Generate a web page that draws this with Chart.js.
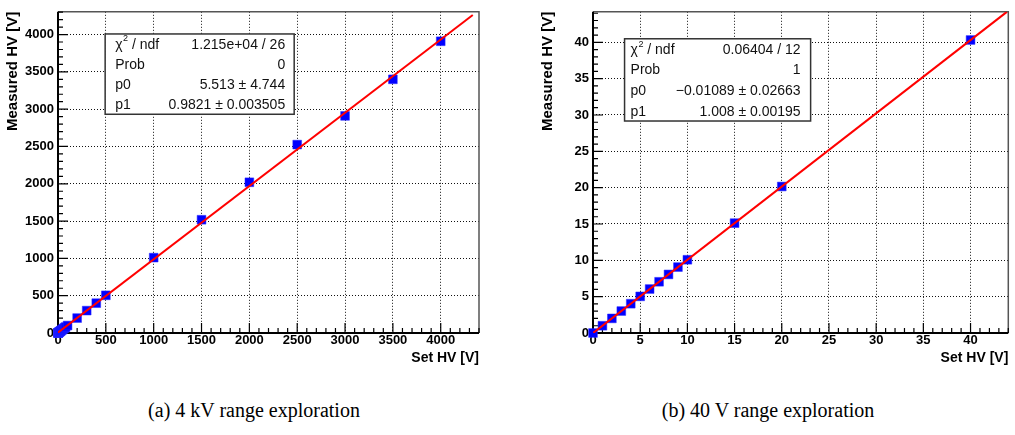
<!DOCTYPE html>
<html>
<head>
<meta charset="utf-8">
<title>HV calibration</title>
<script src="https://cdn.jsdelivr.net/npm/chart.js@4.4.1/dist/chart.umd.min.js"></script>
<style>
  html, body { margin: 0; padding: 0; background: #fff; }
  body { width: 1015px; height: 435px; position: relative; overflow: hidden; }
  .panel { position: absolute; top: 0; height: 375px; }
  #panel-a { left: 0; width: 500px; }
  #panel-b { left: 535px; width: 480px; }
  .caption {
    position: absolute; top: 399px;
    font-family: 'Liberation Serif', 'Times New Roman', serif;
    font-size: 20px; line-height: 22px; color: #000;
    white-space: nowrap; transform: translateX(-50%);
  }
</style>
</head>
<body>
<div class="panel" id="panel-a"><canvas id="chart-a"></canvas></div>
<div class="panel" id="panel-b"><canvas id="chart-b"></canvas></div>
<div class="caption" style="left:254px">(a) 4 kV range exploration</div>
<div class="caption" style="left:768px">(b) 40 V range exploration</div>

<script>
// 4 kV scan: set vs. measured voltage
const setHV4k = [0, 1, 2, 3, 4, 5, 10, 15, 20, 25, 30, 40, 50, 60, 70, 80, 100,
                 200, 300, 400, 500, 1000, 1500, 2000, 2500, 3000, 3500, 4000];
const measHV4k = [0, 1, 2, 3, 4, 5, 10, 15, 20, 25, 30, 40, 50, 60, 70, 80, 100,
                  200, 300, 400, 505, 1010, 1518, 2020, 2525, 2910, 3400, 3910];
const ticks4k = [0, 500, 1000, 1500, 2000, 2500, 3000, 3500, 4000];

// 40 V scan
const setHV40 = [0, 1, 2, 3, 4, 5, 6, 7, 8, 9, 10, 15, 20, 40];
const measHV40 = [0, 1.0, 2.01, 3.02, 4.03, 5.04, 6.05, 7.05, 8.06, 9.07, 10.08, 15.12, 20.16, 40.32];
const ticks40 = [0, 5, 10, 15, 20, 25, 30, 35, 40];

// linear fit results (pol1: p0 + p1*x)
const fitPars4k = [5.513, 0.9821];
const fitErrs4k = [4.744, 0.003505];
const fitChi4k = '1.215e+04 / 26';
const fitProb4k = '0';
const fitRange4k = [0, 4335];

const fitPars40 = [-0.01089, 1.008];
const fitErrs40 = [0.02663, 0.00195];
const fitChi40 = '0.06404 / 12';
const fitProb40 = '1';
const fitRange40 = [0, 43.85];

const statNames = ['χ2 / ndf', 'Prob', 'p0', 'p1'];

const SANS = "'Liberation Sans', Arial, Helvetica, sans-serif";

function fmt(v) {
  return String(v).replace('-', '\u2212');
}

function fitLine(pars, range) {
  return range.map(x => ({ x: x, y: pars[0] + pars[1] * x }));
}

function points(xs, ys) {
  return xs.map((x, i) => ({ x: x, y: ys[i] }));
}

// frame, axes and ROOT-style inward tick marks
const rootFrame = {
  id: 'rootFrame',
  beforeDatasetsDraw(chart, args, opts) {
    const { ctx, chartArea: a, scales } = chart;
    ctx.save();
    ctx.strokeStyle = '#555';
    ctx.lineWidth = 1.5;
    ctx.beginPath();
    ctx.moveTo(a.left, a.top);
    ctx.lineTo(a.right, a.top);
    ctx.lineTo(a.right, a.bottom);
    ctx.stroke();

    ctx.strokeStyle = '#000';
    ctx.lineWidth = 1.2;
    const x = scales.x, y = scales.y;
    const subX = opts.xStep / 5, subY = opts.yStep / 5;
    ctx.beginPath();
    for (let i = 0; i * subX <= x.max + 1e-9; i++) {
      const px = x.getPixelForValue(i * subX);
      const len = i % 5 === 0 ? 10 : 5;
      ctx.moveTo(px, a.bottom);
      ctx.lineTo(px, a.bottom - len);
    }
    for (let i = 0; i * subY <= y.max + 1e-9; i++) {
      const py = y.getPixelForValue(i * subY);
      const len = i % 5 === 0 ? 10 : 5;
      ctx.moveTo(a.left, py);
      ctx.lineTo(a.left + len, py);
    }
    ctx.stroke();

    ctx.lineWidth = 2;
    ctx.beginPath();
    ctx.moveTo(a.left, a.top);
    ctx.lineTo(a.left, a.bottom);
    ctx.lineTo(a.right, a.bottom);
    ctx.stroke();
    ctx.restore();
  }
};

// fit statistics box
const statBox = {
  id: 'statBox',
  afterDraw(chart, args, opts) {
    const { ctx, chartArea: a } = chart;
    const w = a.right - a.left, h = a.bottom - a.top;
    const bx = a.left + opts.box[0] * w, by = a.top + opts.box[1] * h;
    const bw = (opts.box[2] - opts.box[0]) * w, bh = (opts.box[3] - opts.box[1]) * h;
    ctx.save();
    ctx.fillStyle = '#fff';
    ctx.fillRect(bx, by, bw, bh);
    ctx.strokeStyle = '#333';
    ctx.lineWidth = 1.5;
    ctx.strokeRect(bx, by, bw, bh);

    ctx.fillStyle = '#111';
    ctx.textBaseline = 'middle';
    const rowH = bh / opts.names.length;
    opts.names.forEach((name, i) => {
      const cy = by + rowH * (i + 0.5) + 1;
      ctx.font = '14px ' + SANS;
      ctx.textAlign = 'left';
      let tx = bx + opts.inset[0];
      if (name.startsWith('χ2')) {
        ctx.fillText('χ', tx, cy);
        tx += ctx.measureText('χ').width + 0.5;
        ctx.font = '9px ' + SANS;
        ctx.fillText('2', tx, cy - 6);
        tx += ctx.measureText('2').width;
        ctx.font = '14px ' + SANS;
        ctx.fillText(name.slice(2), tx, cy);
      } else {
        ctx.fillText(name, tx, cy);
      }
      ctx.textAlign = 'right';
      ctx.fillText(opts.values[i], bx + bw - opts.inset[1], cy);
    });
    ctx.restore();
  }
};

function makeChart(id, cfg) {
  const tickFont = { family: SANS, size: 13, weight: 'bold' };
  const setTicks = s => { s.ticks = cfg.ticks.map(v => ({ value: v })); };
  return new Chart(document.getElementById(id), {
    data: {
      datasets: [{
        type: 'line',
        data: fitLine(cfg.pars, cfg.range),
        borderColor: '#ff0000',
        borderWidth: 2,
        pointRadius: 0,
        fill: false
      }, {
        type: 'scatter',
        data: points(cfg.xs, cfg.ys),
        pointStyle: 'rect',
        pointRadius: 6.2,
        pointBackgroundColor: '#0000ff',
        pointBorderColor: '#2a2aff',
        pointBorderWidth: 0.5,
        clip: false
      }]
    },
    options: {
      responsive: true,
      maintainAspectRatio: false,
      animation: false,
      events: [],
      layout: { padding: { left: 0, top: 1, right: cfg.padRight, bottom: 0 } },
      plugins: {
        legend: { display: false },
        tooltip: { enabled: false },
        rootFrame: { xStep: cfg.step, yStep: cfg.step },
        statBox: { box: cfg.box, inset: cfg.inset, names: statNames, values: cfg.stats }
      },
      scales: {
        x: {
          type: 'linear',
          min: 0,
          max: cfg.xMax,
          afterBuildTicks: setTicks,
          afterFit: s => { s.height = 42; },
          ticks: {
            padding: 0, maxRotation: 0, autoSkip: false,
            color: '#000', font: tickFont,
            callback: v => String(v)
          },
          grid: { color: '#111', lineWidth: 1, drawTicks: false },
          border: { display: false, dash: [1, 2] },
          title: {
            display: true, text: 'Set HV [V]', align: 'end', color: '#000',
            font: { family: SANS, size: 14, weight: 'bold' },
            padding: { top: 0, bottom: 8.6 }
          }
        },
        y: {
          type: 'linear',
          min: 0,
          max: cfg.yMax,
          afterBuildTicks: setTicks,
          afterFit: s => { s.width = 58; },
          ticks: {
            padding: 4, autoSkip: false,
            color: '#000', font: tickFont,
            callback: v => String(v)
          },
          grid: { color: '#111', lineWidth: 1, drawTicks: false },
          border: { display: false, dash: [1, 2] },
          title: {
            display: true, text: 'Measured HV [V]', align: 'end', color: '#000',
            font: { family: SANS, size: 15, weight: 'bold' },
            padding: { top: 4, bottom: 0 }
          }
        }
      }
    },
    plugins: [rootFrame, statBox]
  });
}

makeChart('chart-a', {
  xs: setHV4k, ys: measHV4k, pars: fitPars4k, range: fitRange4k, ticks: ticks4k,
  xMax: 4400, yMax: 4305, step: 500, padRight: 21,
  box: [0.112, 0.069, 0.561, 0.319], inset: [10, 9],
  stats: [fitChi4k, fitProb4k,
          fmt(fitPars4k[0]) + ' ± ' + fmt(fitErrs4k[0]),
          fmt(fitPars4k[1]) + ' ± ' + fmt(fitErrs4k[1])]
});

makeChart('chart-b', {
  xs: setHV40, ys: measHV40, pars: fitPars40, range: fitRange40, ticks: ticks40,
  xMax: 44, yMax: 44.2, step: 5, padRight: 2,
  box: [0.076, 0.084, 0.524, 0.340], inset: [6, 10],
  stats: [fitChi40, fitProb40,
          fmt(fitPars40[0]) + ' ± ' + fmt(fitErrs40[0]),
          fmt(fitPars40[1]) + ' ± ' + fmt(fitErrs40[1])]
});
</script>
</body>
</html>
